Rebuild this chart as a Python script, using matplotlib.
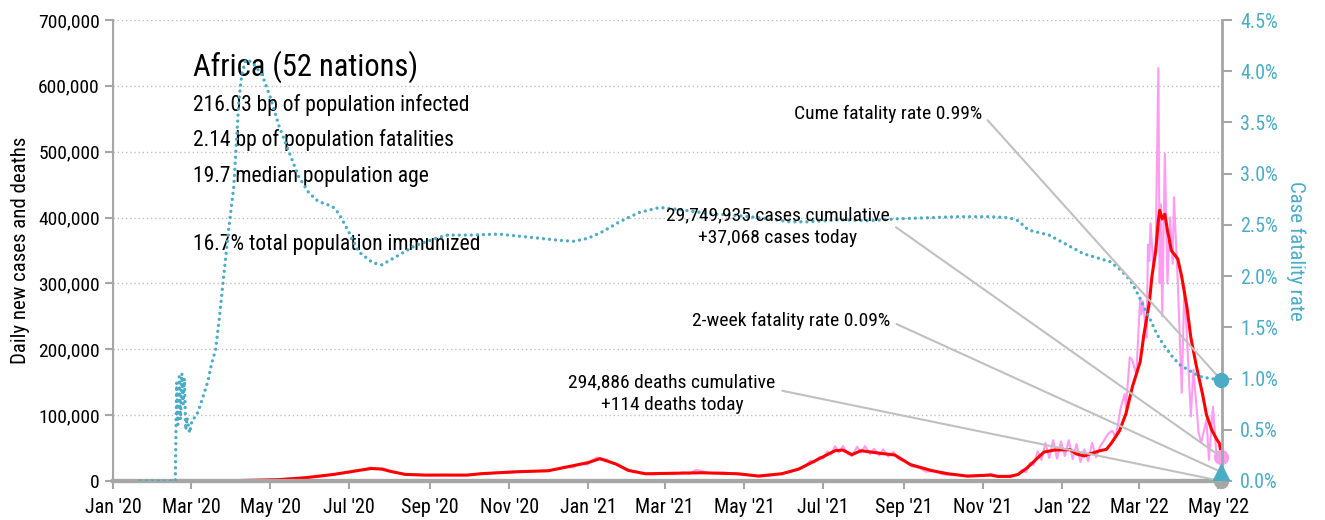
import matplotlib
matplotlib.use('Agg')
import matplotlib.pyplot as plt
import matplotlib.dates as mdates
import matplotlib.ticker as mticker
from matplotlib import font_manager
import pandas as pd

# Daily new cases (raw reports)
case_dates = ['2020-02-22', '2020-03-10', '2020-03-25', '2020-04-08', '2020-04-20', '2020-05-05',
              '2020-05-18', '2020-05-30', '2020-06-10', '2020-06-20', '2020-06-30', '2020-07-07',
              '2020-07-12', '2020-07-17', '2020-07-22', '2020-07-27', '2020-08-02', '2020-08-07',
              '2020-08-14', '2020-08-21', '2020-09-01', '2020-09-12', '2020-09-25', '2020-10-08',
              '2020-10-20', '2020-11-01', '2020-11-10', '2020-11-20', '2020-12-02', '2020-12-09',
              '2020-12-14', '2020-12-20', '2020-12-26', '2020-12-31', '2021-01-04', '2021-01-08',
              '2021-01-11', '2021-01-15', '2021-01-19', '2021-01-24', '2021-01-29', '2021-02-04',
              '2021-02-10', '2021-02-18', '2021-02-28', '2021-03-08', '2021-03-15', '2021-03-20',
              '2021-03-25', '2021-04-05', '2021-04-15', '2021-04-25', '2021-05-05', '2021-05-14',
              '2021-05-22', '2021-05-30', '2021-06-06', '2021-06-12', '2021-06-17', '2021-06-21',
              '2021-06-24', '2021-06-28', '2021-07-01', '2021-07-04', '2021-07-07', '2021-07-10',
              '2021-07-13', '2021-07-16', '2021-07-20', '2021-07-23', '2021-07-27', '2021-07-30',
              '2021-08-02', '2021-08-06', '2021-08-09', '2021-08-13', '2021-08-16', '2021-08-20',
              '2021-08-24', '2021-08-28', '2021-09-02', '2021-09-07', '2021-09-13', '2021-09-18',
              '2021-09-24', '2021-10-01', '2021-10-10', '2021-10-20', '2021-10-30', '2021-11-07',
              '2021-11-14', '2021-11-22', '2021-11-27', '2021-12-01', '2021-12-04', '2021-12-07',
              '2021-12-10', '2021-12-13', '2021-12-16', '2021-12-19', '2021-12-22', '2021-12-25',
              '2021-12-28', '2021-12-31', '2022-01-03', '2022-01-06', '2022-01-09', '2022-01-12',
              '2022-01-15', '2022-01-18', '2022-01-21', '2022-01-24', '2022-01-27', '2022-01-30',
              '2022-02-02', '2022-02-05', '2022-02-08', '2022-02-09', '2022-02-11', '2022-02-15',
              '2022-02-18', '2022-02-19', '2022-02-22', '2022-02-24', '2022-02-27', '2022-03-02',
              '2022-03-03', '2022-03-04', '2022-03-07', '2022-03-08', '2022-03-09', '2022-03-10',
              '2022-03-12', '2022-03-14', '2022-03-16', '2022-03-17', '2022-03-18', '2022-03-19',
              '2022-03-21', '2022-03-23', '2022-03-25', '2022-03-27', '2022-03-28', '2022-03-31',
              '2022-04-03', '2022-04-05', '2022-04-07', '2022-04-10', '2022-04-12', '2022-04-16',
              '2022-04-18', '2022-04-22', '2022-04-24', '2022-04-27', '2022-04-30', '2022-05-01',
              '2022-05-03']
case_vals = [0, 100, 350, 700, 1200, 2000,
             3200, 5200, 7000, 10500, 12500, 16500,
             17000, 20500, 18000, 19500, 14000, 12500,
             9500, 10000, 8500, 9500, 8500, 10500,
             12500, 12000, 14500, 15000, 16000, 18000,
             22000, 20500, 26500, 24500, 31000, 36000,
             31500, 33000, 27000, 25000, 19000, 15000,
             12000, 10000, 11000, 10500, 13000, 11000,
             17000, 12000, 13000, 10500, 9000, 7000,
             8500, 11500, 13500, 19500, 23000, 31000,
             28000, 37000, 34000, 45000, 40000, 53000,
             43000, 53000, 41000, 38000, 52000, 43000,
             53000, 41000, 49000, 39000, 48000, 37000,
             44000, 33000, 30000, 22000, 20000, 14000,
             15000, 10000, 9500, 7000, 7500, 11000,
             6500, 8000, 9000, 17000, 13000, 28000,
             24000, 45000, 32000, 58000, 35000, 62000,
             34000, 60000, 38000, 62000, 33000, 56000,
             29000, 48000, 30000, 58000, 36000, 52000,
             61000, 71000, 76000, 75000, 65000, 111000,
             132000, 111000, 188000, 183000, 162000, 278000,
             253000, 273000, 218000, 359000, 334000, 391000,
             330000, 360000, 627000, 300000, 420000, 250000,
             497000, 300000, 400000, 330000, 431000, 300000,
             134000, 295000, 219000, 98000, 169000, 73000,
             58000, 93000, 32000, 113000, 32000, 43000,
             37068]

# 7-day average of new cases
avg_dates = ['2020-02-22', '2020-03-15', '2020-04-01', '2020-04-14', '2020-05-07', '2020-05-28',
             '2020-06-19', '2020-07-08', '2020-07-18', '2020-07-26', '2020-08-02', '2020-08-13',
             '2020-08-28', '2020-09-30', '2020-10-10', '2020-11-06', '2020-12-01', '2020-12-16',
             '2021-01-01', '2021-01-10', '2021-01-22', '2021-02-01', '2021-02-14', '2021-03-29',
             '2021-04-26', '2021-05-12', '2021-05-30', '2021-06-12', '2021-06-27', '2021-07-10',
             '2021-07-16', '2021-07-23', '2021-07-30', '2021-08-14', '2021-08-25', '2021-09-06',
             '2021-09-22', '2021-10-05', '2021-10-20', '2021-11-07', '2021-11-12', '2021-11-22',
             '2021-11-28', '2021-12-05', '2021-12-13', '2021-12-18', '2021-12-26', '2022-01-07',
             '2022-01-12', '2022-01-18', '2022-01-22', '2022-01-30', '2022-02-04', '2022-02-08',
             '2022-02-14', '2022-02-19', '2022-02-24', '2022-03-02', '2022-03-05', '2022-03-09',
             '2022-03-11', '2022-03-14', '2022-03-16', '2022-03-17', '2022-03-19', '2022-03-21',
             '2022-03-23', '2022-03-24', '2022-03-26', '2022-03-31', '2022-04-03', '2022-04-07',
             '2022-04-10', '2022-04-14', '2022-04-19', '2022-04-22', '2022-04-26', '2022-04-30',
             '2022-05-02', '2022-05-03']
avg_vals = [0, 100, 500, 1000, 2000, 5000,
            10000, 16000, 19000, 18000, 14500, 10000,
            9000, 9000, 11000, 14000, 15500, 21500,
            28000, 34000, 26000, 16000, 11000, 12500,
            11000, 7500, 11000, 18000, 33000, 46000,
            47000, 40000, 46000, 42000, 39500, 25000,
            16000, 11000, 7500, 9000, 7000, 7000,
            10000, 20000, 35000, 44000, 47000, 47500,
            41000, 38000, 41000, 46000, 48000, 58000,
            76000, 102000, 143000, 181000, 224000, 270000,
            310000, 350000, 396000, 411000, 398000, 405000,
            380000, 371000, 350000, 337000, 310000, 264000,
            218000, 177000, 132000, 101000, 78000, 63000,
            57000, 46000]

# Cumulative case fatality rate, percent
cfr_dates = ['2020-01-22', '2020-02-18', '2020-02-19', '2020-02-20', '2020-02-21', '2020-02-22',
             '2020-02-23', '2020-02-24', '2020-02-25', '2020-02-26', '2020-02-27', '2020-02-28',
             '2020-02-29', '2020-03-02', '2020-03-05', '2020-03-08', '2020-03-12', '2020-03-14',
             '2020-03-17', '2020-03-20', '2020-03-23', '2020-03-25', '2020-03-27', '2020-03-30',
             '2020-04-03', '2020-04-05', '2020-04-07', '2020-04-09', '2020-04-12', '2020-04-17',
             '2020-04-25', '2020-05-01', '2020-05-08', '2020-05-15', '2020-05-23', '2020-05-31',
             '2020-06-07', '2020-06-18', '2020-06-23', '2020-07-01', '2020-07-08', '2020-07-19',
             '2020-07-26', '2020-08-06', '2020-08-21', '2020-09-06', '2020-09-14', '2020-10-01',
             '2020-10-24', '2020-11-24', '2020-12-09', '2020-12-21', '2021-01-01', '2021-01-13',
             '2021-01-25', '2021-02-09', '2021-02-25', '2021-03-12', '2021-04-04', '2021-04-27',
             '2021-05-20', '2021-06-05', '2021-06-20', '2021-07-13', '2021-08-05', '2021-08-28',
             '2021-09-20', '2021-10-13', '2021-11-05', '2021-11-21', '2021-11-28', '2021-12-06',
             '2021-12-22', '2022-01-17', '2022-02-07', '2022-02-15', '2022-02-23', '2022-03-02',
             '2022-03-06', '2022-03-10', '2022-03-15', '2022-03-20', '2022-03-27', '2022-04-02',
             '2022-04-10', '2022-04-17', '2022-04-25', '2022-05-03']
cfr_vals = [0, 0, 0.96, 0.55, 1.02, 0.60,
            1.05, 0.75, 1.00, 0.50, 0.62, 0.55,
            0.47, 0.60, 0.63, 0.73, 0.89, 0.97,
            1.15, 1.28, 1.60, 1.85, 2.09, 2.45,
            2.87, 3.30, 3.72, 3.95, 4.11, 4.09,
            3.96, 3.75, 3.46, 3.23, 2.97, 2.81,
            2.73, 2.68, 2.61, 2.42, 2.24, 2.13,
            2.11, 2.19, 2.30, 2.37, 2.40, 2.40,
            2.41, 2.37, 2.35, 2.34, 2.37, 2.44,
            2.53, 2.62, 2.67, 2.65, 2.61, 2.59,
            2.56, 2.53, 2.53, 2.55, 2.54, 2.56,
            2.57, 2.58, 2.58, 2.57, 2.54, 2.45,
            2.40, 2.22, 2.14, 2.06, 1.95, 1.78,
            1.67, 1.57, 1.43, 1.33, 1.21, 1.13,
            1.07, 1.02, 1.00, 0.99]

region = 'Africa'
n_nations = 52
stats_lines = ['216.03 bp of population infected',
               '2.14 bp of population fatalities',
               '19.7 median population age']
immunized = '16.7% total population immunized'
cases_total = 29749935
deaths_total = 294886
deaths_today = 114
cfr_2week = 0.09

PINK = '#FF9BF0'
RED = '#FF0000'
TEAL = '#4BACC6'
GRAY = '#A6A6A6'
LINE_GRAY = '#C0C0C0'

# pick a narrow sans face if one is installed
installed = {f.name for f in font_manager.fontManager.ttflist}
for fam in ['Liberation Sans Narrow', 'Roboto Condensed']:
    if fam in installed:
        plt.rcParams['font.family'] = [fam, 'DejaVu Sans']
        break
else:
    plt.rcParams['font.family'] = ['DejaVu Sans']
    plt.rcParams['font.stretch'] = 'condensed'

cases = pd.Series(case_vals, index=pd.to_datetime(case_dates))
avg = pd.Series(avg_vals, index=pd.to_datetime(avg_dates))
cfr = pd.Series(cfr_vals, index=pd.to_datetime(cfr_dates)) / 100.0
last_day = cases.index[-1]
x_end = mdates.date2num(last_day)

fig = plt.figure(figsize=(13.25, 5.2), dpi=100)
ax = fig.add_axes([113 / 1325, 39 / 520, 1109 / 1325, 461 / 520])
ax2 = ax.twinx()

ax.plot(cases.index, cases.values, color=PINK, lw=1.5, zorder=2)
ax.plot(avg.index, avg.values, color=RED, lw=2.2, zorder=3)
ax.plot([x_end], [cases.iloc[-1]], 'o', color=PINK, ms=10, zorder=4, clip_on=False)
ax.plot([x_end], [deaths_today], 'o', color=GRAY, ms=10, zorder=4, clip_on=False)

ax2.plot(cfr.index, cfr.values, color=TEAL, lw=2.4, linestyle=(0, (0.01, 1.8)),
         dash_capstyle='round', zorder=3)
ax2.plot([x_end], [cfr.iloc[-1]], 'o', color=TEAL, ms=10, zorder=4, clip_on=False)
ax2.plot([x_end], [cfr_2week / 100], '^', color=TEAL, ms=11, zorder=4, clip_on=False)

# axes, ticks, grid
ax.set_xlim(pd.Timestamp('2020-01-01'), last_day + pd.Timedelta(days=1))
ax.set_ylim(0, 700000)
ax2.set_ylim(0, 0.045)
ax.yaxis.set_major_locator(mticker.MultipleLocator(100000))
ax.yaxis.set_major_formatter(mticker.StrMethodFormatter('{x:,.0f}'))
ax2.yaxis.set_major_locator(mticker.MultipleLocator(0.005))
ax2.yaxis.set_major_formatter(mticker.PercentFormatter(1.0, decimals=1))
ax.xaxis.set_major_locator(mdates.MonthLocator(bymonth=[1, 3, 5, 7, 9, 11]))
ax.xaxis.set_major_formatter(mdates.DateFormatter("%b '%y"))

ax.grid(axis='y', color='#BFBFBF', linestyle=(0, (1, 2)), lw=1)
ax.set_axisbelow(True)

for a in (ax, ax2):
    a.spines['top'].set_visible(False)
    a.spines['left'].set_color(GRAY)
    a.spines['right'].set_color(GRAY)
    a.spines['bottom'].set_color(GRAY)
ax.spines['left'].set_linewidth(1.5)
ax2.spines['right'].set_linewidth(2)
ax2.spines['bottom'].set_linewidth(3)
ax.spines['bottom'].set_linewidth(3)
ax.tick_params(axis='x', colors=GRAY, labelcolor='black', labelsize=14.5, length=6, width=1.5, pad=6)
ax.tick_params(axis='y', colors=GRAY, labelcolor='black', labelsize=14, length=6, width=1.5)
ax2.tick_params(axis='y', colors=GRAY, labelcolor=TEAL, labelsize=14.5, length=7, width=1.5, pad=6)

ax.set_ylabel('Daily new cases and deaths', fontsize=15, labelpad=6)
ax2.set_ylabel('Case fatality rate', fontsize=15, color=TEAL, rotation=270, labelpad=20)

# summary block
ax.text(0.072, 0.898, f'{region} ({n_nations} nations)', transform=ax.transAxes,
        fontsize=22, va='center', ha='left')
for y, s in zip([0.8156, 0.7397, 0.6616], stats_lines):
    ax.text(0.072, y, s, transform=ax.transAxes, fontsize=15.5, va='center', ha='left')
ax.text(0.072, 0.514, immunized, transform=ax.transAxes, fontsize=15.5, va='center', ha='left')

# callouts pointing at the latest values
line_kw = dict(arrowstyle='-', color=LINE_GRAY, lw=1.5, shrinkA=3, shrinkB=0)
ax2.annotate(f'Cume fatality rate {cfr.iloc[-1] * 100:.2f}%',
             xy=(x_end, cfr.iloc[-1]), xycoords='data',
             xytext=(0.7836, 0.7961), textcoords=ax.transAxes,
             ha='right', va='center', fontsize=14,
             arrowprops=dict(relpos=(1, 0.5), **line_kw))
ax2.annotate(f'{cases_total:,} cases cumulative\n+{cases.iloc[-1]:,} cases today',
             xy=(x_end, cases.iloc[-1]), xycoords=ax.transData,
             xytext=(0.5996, 0.551), textcoords=ax.transAxes,
             ha='center', va='center', fontsize=14, linespacing=1.35,
             arrowprops=dict(relpos=(1, 0.6), **line_kw))
ax2.annotate(f'2-week fatality rate {cfr_2week:.2f}%',
             xy=(x_end, cfr_2week / 100), xycoords='data',
             xytext=(0.7006, 0.347), textcoords=ax.transAxes,
             ha='right', va='center', fontsize=14,
             arrowprops=dict(relpos=(1, 0.5), **line_kw))
ax2.annotate(f'{deaths_total:,} deaths cumulative\n+{deaths_today:,} deaths today',
             xy=(x_end, deaths_today), xycoords=ax.transData,
             xytext=(0.504, 0.1898), textcoords=ax.transAxes,
             ha='center', va='center', fontsize=14, linespacing=1.35,
             arrowprops=dict(relpos=(1, 0.6), **line_kw))

fig.savefig('out.png', dpi=100)
